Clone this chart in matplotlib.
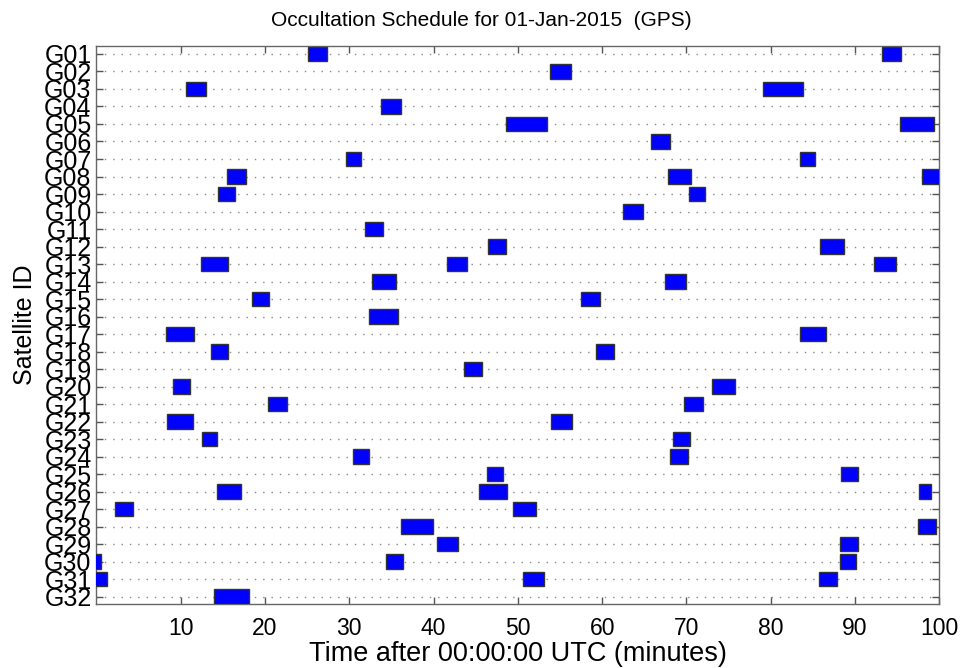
import matplotlib
matplotlib.use("Agg")
import matplotlib.pyplot as plt

plt.rcParams['font.family'] = ['Liberation Sans', 'DejaVu Sans']

satellites = ["G%02d" % i for i in range(1, 33)]

# occultation intervals (start, end) in minutes, per satellite
occ_start = [
    [25.1, 93.2],        # G01
    [53.8],              # G02
    [10.6, 79.1],        # G03
    [33.8],              # G04
    [48.6, 95.3],        # G05
    [65.8],              # G06
    [29.6, 83.5],        # G07
    [15.5, 67.8, 98.0],  # G08
    [14.4, 70.3],        # G09
    [62.5],              # G10
    [31.9],              # G11
    [46.4, 85.9],        # G12
    [12.4, 41.6, 92.3],  # G13
    [32.7, 67.5],        # G14
    [18.5, 57.5],        # G15
    [32.3],              # G16
    [8.3, 83.5],         # G17
    [13.6, 59.3],        # G18
    [43.6],              # G19
    [9.1, 73.0],         # G20
    [20.4, 69.7],        # G21
    [8.4, 53.9],         # G22
    [12.5, 68.4],        # G23
    [30.5, 68.1],        # G24
    [46.3, 88.3],        # G25
    [14.3, 45.4, 97.6],  # G26
    [2.2, 49.4],         # G27
    [36.1, 97.5],        # G28
    [40.4, 88.2],        # G29
    [-0.3, 34.3, 88.2],  # G30
    [-0.3, 50.6, 85.7],  # G31
    [13.9],              # G32
]
occ_end = [
    [27.4, 95.5],
    [56.3],
    [13.0, 83.8],
    [36.1],
    [53.5, 99.4],
    [68.1],
    [31.4, 85.3],
    [17.8, 70.6, 100.8],
    [16.5, 72.2],
    [64.8],
    [34.0],
    [48.6, 88.7],
    [15.6, 44.0, 94.9],
    [35.5, 69.9],
    [20.5, 59.8],
    [35.8],
    [11.6, 86.6],
    [15.6, 61.4],
    [45.8],
    [11.1, 75.8],
    [22.6, 72.0],
    [11.5, 56.4],
    [14.3, 70.4],
    [32.3, 70.2],
    [48.2, 90.3],
    [17.2, 48.7, 99.0],
    [4.4, 52.1],
    [39.9, 99.6],
    [42.9, 90.4],
    [0.5, 36.4, 90.1],
    [1.3, 53.1, 87.9],
    [18.1],
]
x_ticks = [10, 20, 30, 40, 50, 60, 70, 80, 90, 100]

fig = plt.figure(figsize=(9.63, 6.68), dpi=100)
ax = fig.add_axes([0.1001, 0.0958, 0.8753, 0.8352])

ypos = list(range(1, len(satellites) + 1))

# grid lines
for y in ypos:
    ax.axhline(y, color='#8a8a8a', linestyle=(0, (1, 5)), linewidth=1.0, zorder=1)

for y, starts, ends in zip(ypos, occ_start, occ_end):
    for s, e in zip(starts, ends):
        ax.barh(y, e - s, left=s, height=0.82, color='#0000ff',
                edgecolor='#333333', linewidth=1.0, zorder=3)

ax.set_xlim(0, 100)
ax.set_ylim(32.42, 0.55)
ax.set_yticks(ypos)
ax.set_yticklabels(satellites, fontsize=18)
ax.set_xticks(x_ticks)
ax.set_xticklabels([str(v) for v in x_ticks], fontsize=16.5)

ax.tick_params(axis='both', direction='in', length=5, width=1, color='#555555',
               top=True, right=True)
ax.tick_params(axis='y', pad=3.5)
ax.tick_params(axis='x', pad=9)
for sp in ax.spines.values():
    sp.set_color('#666666')
    sp.set_linewidth(1.0)

fig.text(0.5, 0.970, "Occultation Schedule for 01-Jan-2015  (GPS)", fontsize=15,
         ha='center', va='center')
ax.set_xlabel("Time after 00:00:00 UTC (minutes)", fontsize=19.5, labelpad=1)
ax.set_ylabel("Satellite ID", fontsize=18, va='center')
ax.yaxis.set_label_coords(-0.085, 0.5)

fig.savefig("out.png", dpi=100)
